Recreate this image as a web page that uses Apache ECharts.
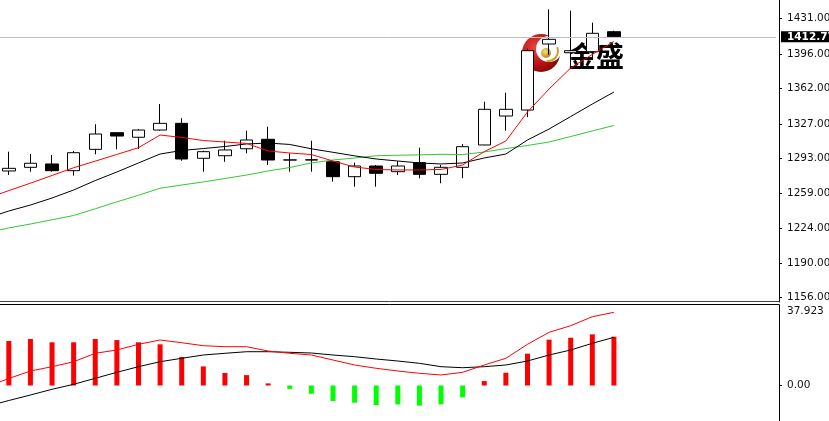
<!DOCTYPE html>
<html><head><meta charset="utf-8">
<script src="https://cdn.jsdelivr.net/npm/echarts@6/dist/echarts.min.js"></script>
<style>html,body{margin:0;padding:0;background:#fff;overflow:hidden}#c{width:829px;height:421px}</style>
</head><body><div id="c"></div>
<script>
// ---- data ----
const categories = ['0','1','2','3','4','5','6','7','8','9','10','11','12','13','14','15','16','17','18','19','20','21','22','23','24','25','26','27','28','29','30','31','32','33','34','35','36'];
const opens  = [1280.7,1284.3,1287.6,1281.0,1302.0,1318.4,1313.9,1321.0,1327.6,1293.2,1295.7,1302.6,1311.9,1291.5,1291.7,1289.8,1275.1,1285.6,1280.0,1288.9,1277.4,1284.3,1306.3,1334.8,1340.7,1405.7,1397.1,1398.1,1417.8];
const highs  = [1299.7,1297.4,1296.4,1300.4,1326.7,1318.6,1322.0,1346.6,1332.6,1300.7,1310.5,1320.4,1324.3,1298.1,1310.5,1290.2,1288.9,1286.6,1290.5,1303.6,1286.6,1307.3,1348.9,1357.8,1401.0,1439.8,1438.5,1426.7,1418.8];
const lows   = [1276.7,1280.0,1280.0,1276.1,1297.1,1302.0,1302.3,1320.4,1290.8,1280.0,1289.8,1298.1,1286.6,1280.0,1280.0,1270.2,1265.2,1265.2,1276.7,1273.5,1268.6,1273.5,1306.0,1320.4,1333.8,1395.0,1381.8,1390.0,1412.2];
const closes = [1283.3,1288.3,1281.0,1298.7,1317.1,1315.1,1321.0,1327.6,1292.5,1299.7,1301.4,1311.2,1291.5,1291.6,1291.5,1275.1,1285.6,1278.4,1285.6,1277.4,1284.3,1304.6,1341.4,1341.4,1399.1,1410.3,1399.1,1416.2,1412.77];
// moving averages (first value belongs to the bar just before the visible window)
const maFast = [1253.8,1261.4,1268.7,1276.3,1283.9,1290.4,1297.0,1303.6,1316.1,1313.7,1310.7,1309.2,1307.8,1300.4,1298.4,1296.9,1290.5,1284.6,1282.2,1281.7,1281.7,1282.2,1286.6,1299.7,1310.2,1338.8,1361.4,1382.1,1395.4,1408.2];
const maMid  = [1234.4,1241.3,1247.2,1254.1,1262.0,1271.3,1279.7,1288.6,1297.4,1300.9,1302.8,1304.8,1307.3,1308.2,1306.8,1302.5,1299.1,1295.6,1292.5,1290.5,1288.6,1287.6,1288.6,1293.5,1297.4,1311.2,1322.0,1334.3,1346.6,1358.4];
const maSlow = [1220.2,1224.6,1228.5,1232.7,1236.9,1243.5,1250.3,1256.8,1263.7,1266.9,1269.9,1273.3,1276.7,1280.7,1284.1,1288.6,1291.5,1293.5,1295.7,1296.2,1296.6,1297.1,1296.9,1299.4,1302.8,1305.8,1309.2,1314.6,1320.1,1325.5];
// MACD sub-window
const macdHist = [20.96,21.9,20.35,20.35,21.9,21.4,20.35,19.4,13.4,9.0,5.9,4.9,1.0,-1.6,-3.9,-7.3,-8.1,-9.2,-8.9,-9.5,-8.9,-5.6,2.1,6.0,15.0,21.6,22.5,24.1,23.0];
const macdDif  = [-0.57,3.30,6.83,8.86,11.21,15.17,16.72,19.41,21.43,20.16,18.75,18.28,18.28,16.25,15.17,14.37,12.01,9.66,8.10,6.83,5.75,4.95,6.22,9.66,12.81,19.41,25.06,28.17,32.41,34.48];
const macdDea  = [-9.75,-7.07,-4.47,-1.79,0.57,3.39,6.22,8.86,11.21,12.81,14.37,15.17,15.92,15.92,15.64,15.31,14.37,13.57,12.48,11.54,10.45,8.86,8.38,8.86,9.66,11.54,14.37,16.72,19.88,22.70];
// axis labels
const priceTicks = [1431, 1396, 1362, 1327, 1293, 1259, 1224, 1190, 1156];
const lastPrice = 1412.77;
const macdTicks = [37.923, 0];

// ---- build ----
const N = categories.length;
const PRE = 1;
function place(arr, offset) {
  const out = new Array(N).fill(null);
  arr.forEach((v, i) => { out[i + offset] = v; });
  return out;
}
const candleData = categories.map((c, k) => {
  const i = k - PRE;
  return (i >= 0 && i < opens.length) ? [opens[i], closes[i], lows[i], highs[i]] : '-';
});

const FONT = 'DejaVu Sans';
const FS = 10.5;
const gridLeft = -23.6, gridWidth = 799.6;

const chart = echarts.init(document.getElementById('c'), null, {renderer: 'canvas'});
chart.setOption({
  animation: false,
  backgroundColor: '#fff',
  grid: [
    {left: gridLeft, top: 0, width: gridWidth, height: 302, outerBoundsMode: 'none', containLabel: false},
    {left: gridLeft, top: 305, width: gridWidth, height: 116, outerBoundsMode: 'none', containLabel: false}
  ],
  xAxis: [
    {type: 'category', gridIndex: 0, data: categories, boundaryGap: true, show: false},
    {type: 'category', gridIndex: 1, data: categories, boundaryGap: true, show: false}
  ],
  yAxis: [
    {
      type: 'value', gridIndex: 0, position: 'right', offset: 3,
      min: 1151.74, max: 1449.0,
      splitLine: {show: false},
      axisLine: {show: true, lineStyle: {color: '#000', width: 1}},
      axisTick: {show: true, length: 3, customValues: priceTicks, lineStyle: {color: '#000'}},
      axisLabel: {
        customValues: priceTicks.concat([lastPrice]),
        margin: 2, color: '#111', fontFamily: FONT, fontSize: FS,
        formatter: v => (Math.abs(v - lastPrice) < 1e-6 ? '{cur|' + v.toFixed(2) + '}' : '{n|' + v.toFixed(2) + '}'),
        rich: {
          n: {padding: [0, 0, 0, 6], fontFamily: FONT, fontSize: FS, color: '#111'},
          cur: {backgroundColor: '#000', color: '#fff', padding: [0, 4, 0, 6], lineHeight: 9, fontFamily: FONT, fontSize: FS, fontWeight: 'bold'}
        }
      }
    },
    {
      type: 'value', gridIndex: 1, position: 'right', offset: 3,
      min: -16.72, max: 37.923,
      splitLine: {show: false},
      axisLine: {show: true, lineStyle: {color: '#000', width: 1}},
      axisTick: {show: true, length: 3, customValues: [0], lineStyle: {color: '#000'}},
      axisLabel: {
        customValues: macdTicks,
        margin: 2, color: '#111', fontFamily: FONT, fontSize: FS,
        formatter: v => (v === 0 ? '{n|0.00}' : '{top|' + String(v) + '}'),
        rich: {
          n: {padding: [0, 0, 0, 6], fontFamily: FONT, fontSize: FS, color: '#111'},
          top: {padding: [13, 0, 0, 6], fontFamily: FONT, fontSize: FS, color: '#111'}
        }
      }
    }
  ],
  series: [
    {
      type: 'candlestick', xAxisIndex: 0, yAxisIndex: 0, data: candleData, barWidth: 13, z: 2,
      itemStyle: {color: '#fff', color0: '#000', borderColor: '#000', borderColor0: '#000', borderColorDoji: '#000', borderWidth: 1},
      markLine: {
        silent: true, symbol: ['none', 'none'], label: {show: false},
        lineStyle: {color: '#c0c0c0', width: 1, type: 'solid'},
        data: [{yAxis: lastPrice}]
      }
    },
    {type: 'line', xAxisIndex: 0, yAxisIndex: 0, data: place(maSlow, 0), symbol: 'none', z: 3, lineStyle: {color: '#33c833', width: 1}},
    {type: 'line', xAxisIndex: 0, yAxisIndex: 0, data: place(maMid, 0), symbol: 'none', z: 3, lineStyle: {color: '#000', width: 1}},
    {type: 'line', xAxisIndex: 0, yAxisIndex: 0, data: place(maFast, 0), symbol: 'none', z: 3, lineStyle: {color: '#ff0000', width: 1}},
    {
      type: 'bar', xAxisIndex: 1, yAxisIndex: 1, data: place(macdHist, PRE), barWidth: 5,
      itemStyle: {color: p => (p.value >= 0 ? '#ff0000' : '#00ff00')}
    },
    {type: 'line', xAxisIndex: 1, yAxisIndex: 1, data: place(macdDea, 0), symbol: 'none', z: 3, lineStyle: {color: '#000', width: 1}},
    {type: 'line', xAxisIndex: 1, yAxisIndex: 1, data: place(macdDif, 0), symbol: 'none', z: 3, lineStyle: {color: '#ff0000', width: 1}}
  ],
  graphic: [
    {type: 'line', z: 10, shape: {x1: 0, y1: 301.5, x2: 779.5, y2: 301.5}, style: {stroke: '#444', lineWidth: 1}},
    {type: 'line', z: 10, shape: {x1: 0, y1: 304.5, x2: 779.5, y2: 304.5}, style: {stroke: '#000', lineWidth: 1}},
    // logo watermark
    {type: 'group', z: 20, children: [
      {type: 'circle', shape: {cx: 541, cy: 53, r: 19},
        style: {fill: new echarts.graphic.RadialGradient(0.35, 0.35, 0.8, [
          {offset: 0, color: '#e8453c'}, {offset: 0.6, color: '#b80f12'}, {offset: 1, color: '#6e0606'}])}},
      {type: 'circle', shape: {cx: 549, cy: 49, r: 13}, style: {fill: '#fff'}},
      {type: 'arc', shape: {cx: 548, cy: 51, r: 10, startAngle: -0.4, endAngle: 1.7}, style: {stroke: '#c9a02e', lineWidth: 2, fill: null}},
      {type: 'circle', shape: {cx: 546, cy: 53, r: 5},
        style: {fill: new echarts.graphic.RadialGradient(0.4, 0.35, 0.7, [
          {offset: 0, color: '#f7de7a'}, {offset: 1, color: '#b08415'}])}},
      {type: 'text', x: 568, y: 56, style: {text: '金盛', fill: '#000', font: 'bold 28px "Noto Sans CJK SC"', verticalAlign: 'middle', align: 'left'}}
    ]}
  ]
});
</script>
</body></html>
